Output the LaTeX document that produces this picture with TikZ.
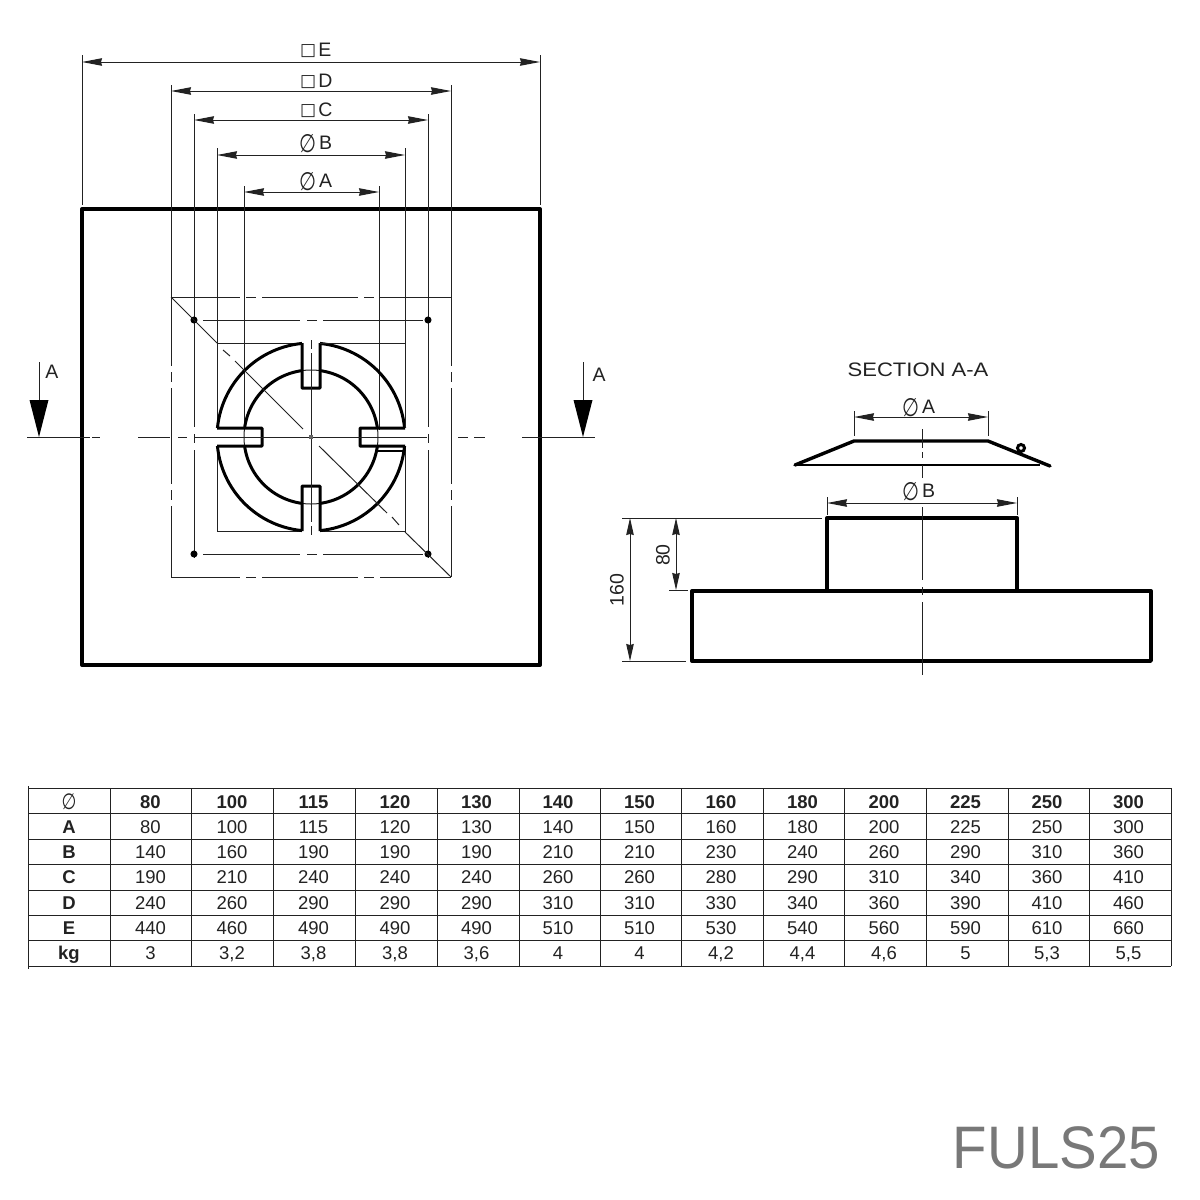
\documentclass[tikz,border=0pt]{standalone}
\usepackage{fontspec}
\setmainfont{Liberation Sans}
\newfontfamily\symfont{DejaVu Sans}
\usetikzlibrary{arrows.meta}
\definecolor{ink}{HTML}{222222}
\tikzstyle{thinline} = [draw=ink, line width=1pt]
\tikzstyle{chain} = [draw=ink, line width=1pt, dash pattern=on 96pt off 6pt on 10pt off 6pt, dash phase=27pt]
\tikzstyle{heavy} = [draw=black, line width=3.4pt, line join=round]
\tikzstyle{ringline} = [draw=black, line width=3pt, line join=round]
\tikzstyle{dimline} = [draw=ink, line width=1pt, {Stealth[length=20pt,width=7.5pt,inset=1pt]}-{Stealth[length=20pt,width=7.5pt,inset=1pt]}]
\tikzstyle{dimshort} = [draw=ink, line width=1pt, {Stealth[length=17pt,width=7.5pt,inset=1pt]}-{Stealth[length=17pt,width=7.5pt,inset=1pt]}]
\tikzstyle{dimtext} = [inner sep=0pt, text=ink, font=\fontsize{19.5}{21}\selectfont]
\tikzstyle{dimlabel} = [dimtext, anchor=base west]
\tikzstyle{cell} = [anchor=base, inner sep=0pt, text=ink, font=\fontsize{18.5}{20}\selectfont]
\tikzstyle{headcell} = [anchor=base, inner sep=0pt, text=ink, font=\fontsize{18.5}{20}\selectfont\bfseries]
\tikzstyle{hole} = [draw=black, fill=black, line width=1pt]
\newcommand{\dia}{\raisebox{-3pt}{\scalebox{1}[1.3]{\symfont\char"2205}}\hspace{3pt}}
\newcommand{\sqr}{\raisebox{1pt}{\fontsize{17}{17}\selectfont\symfont\char"25A1}\hspace{2pt}}
\begin{document}
\begin{tikzpicture}[x=1pt,y=-1pt]
        \useasboundingbox (0,0) rectangle (1200,1200);
        % plan view
        \draw [line width=4pt, draw=black, line join=round] (82,209) rectangle (540,665);
        \draw [chain] (171,297) -- (451,297);
        \draw [chain] (171,577) -- (451,577);
        \draw [chain] (171,297) -- (171,577);
        \draw [chain] (451,297) -- (451,577);

        % extension lines
        \draw [thinline] (82,55) -- (82,205);
        \draw [thinline] (540,55) -- (540,205);
        \draw [thinline] (171,85) -- (171,297);
        \draw [thinline] (451,85) -- (451,297);
        \foreach \x in {194,428} {
            \draw [thinline] (\x,114) -- (\x,427);
            \draw [thinline] (\x,434) -- (\x,443);
            \draw [thinline] (\x,450) -- (\x,558);
        }
        \draw [thinline] (217,148) -- (217,343);
        \draw [thinline] (405,148) -- (405,343);
        \draw [thinline] (244,186) -- (244,430);
        \draw [thinline] (379,186) -- (379,430);

        % ring
        \draw [thinline] (311,437) circle [radius=67];
        \foreach \a in {0,90,180,270} {
            \begin{scope}[rotate around={\a:(311,437)}]
                \draw [thinline] (302,343) -- (217,343) -- (217,428);
                \draw [ringline] (302,343) -- (302,388) -- (320,388) -- (320,343)
                    plot [domain=84.5:5.5, samples=30] ({311+94*cos(\x)},{437-94*sin(\x)});
                \draw [ringline] plot [domain=82.3:7.7, samples=30] ({311+67*cos(\x)},{437-67*sin(\x)});
            \end{scope}
        }
        \draw [line width=1.6pt, draw=black] (377,451) -- (405,451);

        % holes
        \foreach \x/\y in {194/320,428/320,194/554,428/554} {
            \draw [hole] (\x,\y) circle [radius=3];
        }
        \foreach \y in {320,554} {
            \draw [thinline] (203,\y) -- (300,\y);
            \draw [thinline] (307,\y) -- (317,\y);
            \draw [thinline] (323,\y) -- (423,\y);
        }

        % center lines
        \draw [thinline] (27,437) -- (90,437);
        \draw [thinline] (92,437) -- (100,437);
        \draw [thinline] (138,437) -- (170,437);
        \draw [thinline] (178,437) -- (187,437);
        \draw [thinline] (195,437) -- (427,437);
        \draw [thinline] (458,437) -- (468,437);
        \draw [thinline] (474,437) -- (485,437);
        \draw [thinline] (522,437) -- (595,437);
        \draw [thinline] (311,340) -- (311,349);
        \draw [thinline] (311,353) -- (311,522);
        \draw [thinline] (311,526) -- (311,535);
        \draw [thinline] (171,297) -- (217,343);
        \draw [thinline] (223,350) -- (230,356);
        \draw [thinline] (235,361) -- (303,429);
        \draw [thinline] (319,446) -- (387,513);
        \draw [thinline] (392,517) -- (399,525);
        \draw [thinline] (405,532) -- (451,577);
        \fill [ink!70] (309,435) rectangle (313,439);

        % section marks
        \draw [thinline] (39,362) -- (39,400);
        \draw [thinline] (583,362) -- (583,400);
        \fill [black] (29.5,400) -- (48.5,400) -- (39,437) -- cycle;
        \fill [black] (573.5,400) -- (592.5,400) -- (583,437) -- cycle;
        \node (markleft) [dimtext] at (52,372) {A};
        \node (markright) [dimtext] at (599,375) {A};

        % dimensions above plan
        \draw [dimline] (82,62) -- (540,62);
        \draw [dimline] (171,91) -- (451,91);
        \draw [dimline] (194,120) -- (428,120);
        \draw [dimline] (217,155) -- (405,155);
        \draw [dimline] (244,192) -- (379,192);
        \node (dime) [dimlabel] at (300,56) {\sqr E};
        \node (dimd) [dimlabel] at (300,87) {\sqr D};
        \node (dimc) [dimlabel] at (300,116) {\sqr C};
        \node (dimb) [dimlabel] at (299,149) {\dia B};
        \node (dima) [dimlabel] at (299,187) {\dia A};

        % section view
        \node (sectitle) [dimtext, xscale=1.13] at (918,370) {SECTION A-A};
        \draw [heavy, line cap=round] (795,465) -- (854,441) -- (988,441) -- (1050,466);
        \draw [line width=2.2pt, draw=black] (795,465) -- (1040,465);
        \draw [line width=3pt, draw=black] (1021,448) circle [radius=3.5];
        \draw [heavy] (692,591) rectangle (1151,661);
        \draw [heavy] (827,591) -- (827,518) -- (1017,518) -- (1017,591);
        \foreach \a/\b in {429/448,452/458,465/478,507/580,587/595,602/675} {
            \draw [thinline] (922,\a) -- (922,\b);
        }
        \draw [thinline] (854,411) -- (854,436);
        \draw [thinline] (988,411) -- (988,436);
        \draw [thinline] (827,497) -- (827,515);
        \draw [thinline] (1017,497) -- (1017,515);
        \draw [dimline] (854,417) -- (988,417);
        \draw [dimline] (827,503) -- (1017,503);
        \node (secdima) [dimlabel] at (902,413) {\dia A};
        \node (secdimb) [dimlabel] at (902,497) {\dia B};
        \draw [thinline] (622,518) -- (822,518);
        \draw [thinline] (622,661) -- (686,661);
        \draw [thinline] (669,590) -- (688,590);
        \draw [dimshort] (630,518) -- (630,661);
        \draw [dimshort] (676,518) -- (676,590);
        \node (dimtall) [dimtext, rotate=90] at (617,590) {160};
        \node (dimlow) [dimtext, rotate=90] at (663,555) {80};

        % table
        \foreach \y in {788,813,839,864,890,915,940,966} {
            \draw [thinline] (28,\y) -- (1171,\y);
        }
        \foreach \x in {110,191,273,355,437,519,600,681,763,844,926,1008,1089,1171} {
            \draw [thinline] (\x,788) -- (\x,966);
        }
        \draw [thinline] (28,786) -- (28,969);
        \node (rowhead) [inner sep=0pt, text=ink] at (69,802) {\fontsize{17}{17}\selectfont\scalebox{1}[1.3]{\symfont\char"2205}};
        \foreach \v [count=\c from 0] in {80,100,115,120,130,140,150,160,180,200,225,250,300} {
            \node (head\c) [headcell] at (150.5+81.5*\c,808.5) {\v};
        }
        \foreach \y/\ttl/\vals in {
            833.5/A/{80,100,115,120,130,140,150,160,180,200,225,250,300},
            858.5/B/{140,160,190,190,190,210,210,230,240,260,290,310,360},
            883.5/C/{190,210,240,240,240,260,260,280,290,310,340,360,410},
            909.5/D/{240,260,290,290,290,310,310,330,340,360,390,410,460},
            934.5/E/{440,460,490,490,490,510,510,530,540,560,590,610,660},
            959/kg/{3,{3,2},{3,8},{3,8},{3,6},4,4,{4,2},{4,4},{4,6},5,{5,3},{5,5}}} {
            \node (row\ttl) [headcell] at (69,\y) {\ttl};
            \foreach \v [count=\c from 0] in \vals {
                \node (cell\ttl\c) [cell] at (150.5+81.5*\c,\y) {\v};
            }
        }

        \node (fuls) [anchor=base east, inner sep=0pt, xscale=0.94, text=black!53, font=\fontsize{60}{70}\selectfont] at (1160,1168) {FULS25};
\end{tikzpicture}
\end{document}
